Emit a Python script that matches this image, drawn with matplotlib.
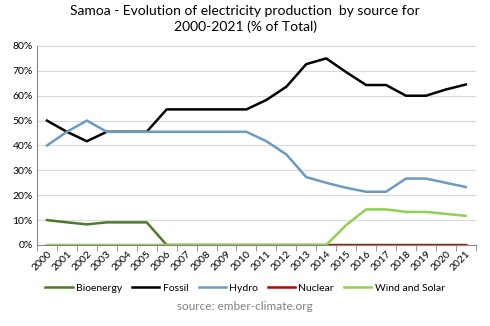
import numpy as np
import matplotlib.pyplot as plt
from matplotlib.ticker import FuncFormatter

plt.rcParams['font.family'] = ['Lato', 'DejaVu Sans']

years = list(range(2000, 2022))

bioenergy = [10.0, 9.1, 8.3, 9.1, 9.1, 9.1, 0, 0, 0, 0, 0, 0, 0, 0, 0, 0, 0, 0, 0, 0, 0, 0]
fossil = [50.0, 45.5, 41.7, 45.5, 45.5, 45.5, 54.5, 54.5, 54.5, 54.5, 54.5, 58.3,
          63.6, 72.7, 75.0, 69.5, 64.3, 64.3, 60.0, 60.0, 62.5, 64.5]
hydro = [40.0, 45.5, 50.0, 45.5, 45.5, 45.5, 45.5, 45.5, 45.5, 45.5, 45.5, 41.7,
         36.4, 27.3, 25.0, 23.0, 21.4, 21.4, 26.7, 26.7, 25.0, 23.3]
nuclear = [0] * 22
wind_solar = [0, 0, 0, 0, 0, 0, 0, 0, 0, 0, 0, 0, 0, 0, 0, 8.0, 14.3, 14.3, 13.3, 13.3, 12.5, 11.7]

series = [
    ("Bioenergy", bioenergy, "#4f7a28"),
    ("Fossil", fossil, "#000000"),
    ("Hydro", hydro, "#6b9bc3"),
    ("Nuclear", nuclear, "#c00000"),
    ("Wind and Solar", wind_solar, "#92d050"),
]

fig = plt.figure(figsize=(4.9, 3.26), dpi=100)
ax = fig.add_axes([0.0755, 0.2485, 0.8955, 0.6105])

x = np.arange(len(years))
for name, vals, col in series:
    ax.plot(x, vals, color=col, lw=1.8, label=name)

ax.set_xlim(-0.5, len(years) - 0.5)
ax.set_ylim(0, 80)
ax.set_yticks(range(0, 81, 10))
ax.yaxis.set_major_formatter(FuncFormatter(lambda v, p: f"{int(v)}%"))
ax.set_xticks(x)
ax.set_xticklabels([str(y) for y in years], rotation=45, ha='right',
                   rotation_mode='anchor', fontsize=7.5)
ax.set_xticks(np.arange(-0.5, len(years)), minor=True)
ax.tick_params(axis='x', which='major', length=0, pad=3)
ax.tick_params(axis='x', which='minor', length=4, color='#868686')
ax.tick_params(axis='y', length=0, labelsize=7.5, pad=3)
ax.grid(axis='y', color='#d9d9d9', lw=0.8)
ax.set_axisbelow(True)
for s in ['top', 'right']:
    ax.spines[s].set_visible(False)
ax.spines['left'].set_color('#868686')
ax.spines['bottom'].set_color('#868686')

fig.suptitle("Samoa - Evolution of electricity production  by source for\n2000-2021 (% of Total)",
             y=0.985, fontsize=10, linespacing=1.3)

fig.legend(loc='center', bbox_to_anchor=(0.5, 0.117), ncol=5, frameon=False,
           fontsize=7.5, handlelength=2.6, handletextpad=0.3, columnspacing=1.0)
fig.text(0.5, 0.06, "source: ember-climate.org", ha='center', va='center',
         fontsize=8.5, color='#7f7f7f')

fig.savefig("out.png", dpi=100)
